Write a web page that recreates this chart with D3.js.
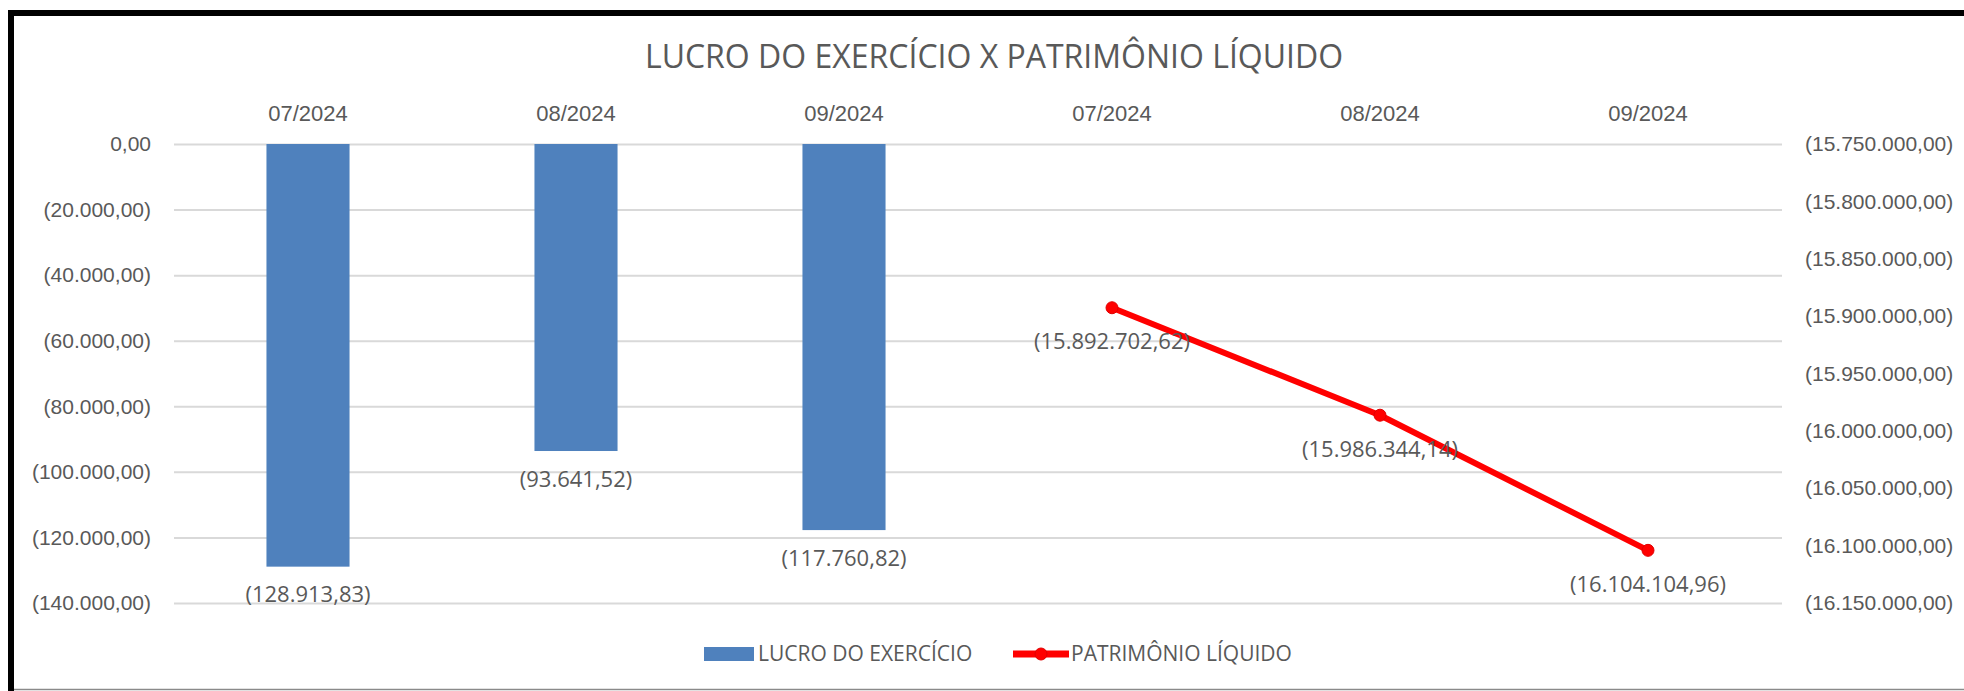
<!DOCTYPE html>
<html>
<head>
<meta charset="utf-8">
<script src="https://cdn.jsdelivr.net/npm/d3@7"></script>
<style>
  body { margin: 0; background: #fff; }
  svg { display: block; font-family: "Open Sans", sans-serif; }
  .tick text { fill: #595959; }
</style>
</head>
<body>
<svg id="chart" width="1964" height="691"></svg>
<script>
// chart data
const categories = ["07/2024", "08/2024", "09/2024", "07/2024", "08/2024", "09/2024"];
const lucroIdx = [0, 1, 2];
const lucroValues = [-128913.83, -93641.52, -117760.82];
const plIdx = [3, 4, 5];
const plValues = [-15892702.62, -15986344.14, -16104104.96];
const leftTicks = [0, -20000, -40000, -60000, -80000, -100000, -120000, -140000];
const rightTicks = [-15750000, -15800000, -15850000, -15900000, -15950000, -16000000, -16050000, -16100000, -16150000];

const title = "LUCRO DO EXERCÍCIO X PATRIMÔNIO LÍQUIDO";
const seriesNames = ["LUCRO DO EXERCÍCIO", "PATRIMÔNIO LÍQUIDO"];

const BLUE = "#4F81BD";
const RED = "#FF0000";
const TEXT = "#595959";
const AXIS_FS = 21, LABEL_FS = 22;

const ptBR = d3.formatLocale({ decimal: ",", thousands: ".", grouping: [3], currency: ["R$", ""] });
const num = ptBR.format(",.2f");
// Excel style: negatives in parentheses
const fmt = v => v < 0 ? `(${num(-v)})` : num(v);

const svg = d3.select("#chart");
const plotTop = 144, plotBottom = 603, plotLeft = 174, plotRight = 1782;

const x = d3.scaleBand().domain(d3.range(categories.length)).range([plotLeft, plotRight]).padding(0);
const yL = d3.scaleLinear().domain([-140000, 0]).range([plotBottom, plotTop]);
const yR = d3.scaleLinear().domain([-16150000, -15750000]).range([plotBottom, plotTop]);

// frame
svg.append("line").attr("x1", 11).attr("x2", 11).attr("y1", 10).attr("y2", 691)
  .attr("stroke", "#000").attr("stroke-width", 6);
svg.append("line").attr("x1", 8).attr("x2", 1964).attr("y1", 13).attr("y2", 13)
  .attr("stroke", "#000").attr("stroke-width", 6);
svg.append("line").attr("x1", 14).attr("x2", 1964).attr("y1", 689.5).attr("y2", 689.5)
  .attr("stroke", "#8a8a8a").attr("stroke-width", 1.5);

// title
svg.append("text").attr("x", 994).attr("y", 68).attr("text-anchor", "middle")
  .attr("font-size", 32).attr("fill", TEXT).text(title);

// left axis + gridlines
const gL = svg.append("g").attr("transform", `translate(${plotLeft},0)`)
  .call(d3.axisLeft(yL).tickValues(leftTicks).tickFormat(fmt)
    .tickSizeInner(-(plotRight - plotLeft)).tickSizeOuter(0).tickPadding(23));
gL.select(".domain").remove();
gL.selectAll(".tick line").attr("stroke", "#d9d9d9").attr("stroke-width", 2);
gL.selectAll(".tick text").attr("font-size", AXIS_FS);

// right axis
const gR = svg.append("g").attr("transform", `translate(${plotRight},0)`)
  .call(d3.axisRight(yR).tickValues(rightTicks).tickFormat(fmt).tickSize(0).tickPadding(23));
gR.select(".domain").remove();
gR.selectAll(".tick text").attr("font-size", AXIS_FS);

// category axis on top
const gX = svg.append("g").attr("transform", `translate(0,${plotTop})`)
  .call(d3.axisTop(x).tickFormat(i => categories[i]).tickSize(0).tickPadding(23));
gX.select(".domain").remove();
gX.selectAll(".tick text").attr("font-size", LABEL_FS);

// bars
const barW = x.bandwidth() * 0.31;
const bars = lucroIdx.map((c, i) => ({ c, v: lucroValues[i] }));
svg.append("g").selectAll("rect").data(bars).join("rect")
  .attr("x", d => x(d.c) + (x.bandwidth() - barW) / 2)
  .attr("y", yL(0))
  .attr("width", barW)
  .attr("height", d => yL(d.v) - yL(0))
  .attr("fill", BLUE);

svg.append("g").selectAll("text").data(bars).join("text")
  .attr("x", d => x(d.c) + x.bandwidth() / 2)
  .attr("y", d => yL(d.v) + 28)
  .attr("dy", "0.35em")
  .attr("text-anchor", "middle")
  .attr("font-size", LABEL_FS).attr("fill", TEXT)
  .text(d => fmt(d.v));

// line series on secondary axis
const pts = plIdx.map((c, i) => ({ c, v: plValues[i] }));
const line = d3.line().x(d => x(d.c) + x.bandwidth() / 2).y(d => yR(d.v));
svg.append("path").datum(pts).attr("d", line)
  .attr("fill", "none").attr("stroke", RED).attr("stroke-width", 6).attr("stroke-linejoin", "round");
svg.append("g").selectAll("circle").data(pts).join("circle")
  .attr("cx", d => x(d.c) + x.bandwidth() / 2)
  .attr("cy", d => yR(d.v))
  .attr("r", 6)
  .attr("fill", RED).attr("stroke", "#e00000").attr("stroke-width", 1);

svg.append("g").selectAll("text").data(pts).join("text")
  .attr("x", d => x(d.c) + x.bandwidth() / 2)
  .attr("y", d => yR(d.v) + 34)
  .attr("dy", "0.35em")
  .attr("text-anchor", "middle")
  .attr("font-size", LABEL_FS).attr("fill", TEXT)
  .text(d => fmt(d.v));

// legend
const lg = svg.append("g").attr("font-size", AXIS_FS).attr("fill", TEXT);
lg.append("rect").attr("x", 704).attr("y", 647).attr("width", 50).attr("height", 14).attr("fill", BLUE);
lg.append("text").attr("x", 758).attr("y", 654).attr("dy", "0.35em").text(seriesNames[0]);
lg.append("line").attr("x1", 1013).attr("x2", 1069).attr("y1", 654).attr("y2", 654)
  .attr("stroke", RED).attr("stroke-width", 7);
lg.append("circle").attr("cx", 1041).attr("cy", 654).attr("r", 6)
  .attr("fill", RED).attr("stroke", "#e00000");
lg.append("text").attr("x", 1071).attr("y", 654).attr("dy", "0.35em").text(seriesNames[1]);
</script>
</body>
</html>
